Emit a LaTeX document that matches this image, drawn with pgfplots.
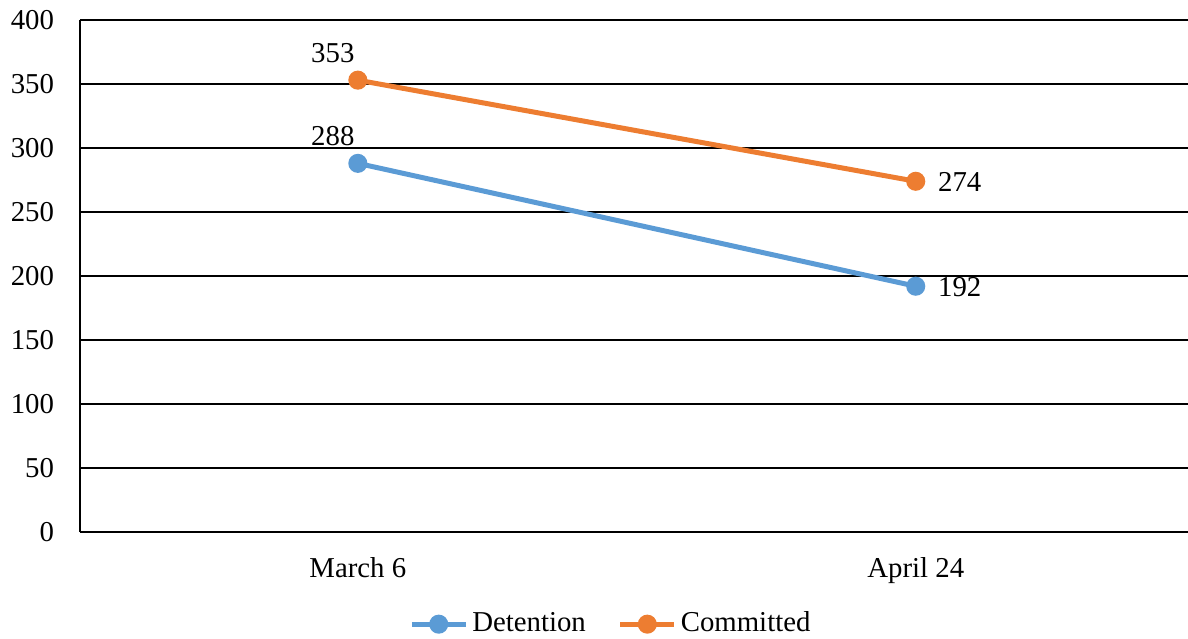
\documentclass[border=0pt]{standalone}
\usepackage{pgfplots}
\pgfplotsset{compat=1.18}
\usepackage{fontspec}
\setmainfont{Liberation Serif}
\definecolor{cblue}{HTML}{5B9BD5}
\definecolor{corange}{HTML}{ED7D31}
\begin{document}
\fontsize{14.4}{17}\selectfont
\begin{tikzpicture}
\begin{axis}[
  at={(0,0)}, anchor=south west,
  width=554pt, height=256pt, scale only axis,
  xmin=-0.498, xmax=1.488, ymin=0, ymax=400,
  ytick={0,50,100,150,200,250,300,350,400},
  yticklabels={0,50,100,150,200,250,300,350,400},
  xtick={0,1}, xticklabels={March 6,April 24},
  axis lines*=left,
  axis line style={black, line width=1pt},
  major tick length=0pt,
  ymajorgrids, grid style={black, line width=1pt},
  yticklabel style={xshift=-8pt},
  xticklabel style={yshift=-8pt},
  tick label style={font=\fontsize{14.4}{17}\selectfont},
  clip=false,
  legend columns=2,
  legend style={at={(0.48,-0.18)}, anchor=center, draw=none, fill=none,
    font=\fontsize{14.4}{17}\selectfont,
    /tikz/every even column/.append style={column sep=14pt},
    inner sep=0pt},
  legend image code/.code={
    \draw[#1, mark=none] (0cm,0cm) -- (27pt,0cm);
    \draw[#1, only marks] plot coordinates {(13.5pt,0cm)};
  },
  point meta=explicit symbolic,
  nodes near coords={\pgfplotspointmeta},
  every node near coord/.append style={font=\fontsize{14.4}{17}\selectfont, text=black, anchor=center},
  coordinate style/.condition={x==0}{xshift=-12.5pt, yshift=13.5pt},
  coordinate style/.condition={x==1}{xshift=22pt, yshift=-0.5pt},
]
\addplot[cblue, line width=2.5pt, mark=*, mark size=3.5pt] coordinates {(0,288) [288] (1,192) [192]};
\addlegendentry{Detention}
\addplot[corange, line width=2.5pt, mark=*, mark size=3.5pt] coordinates {(0,353) [353] (1,274) [274]};
\addlegendentry{Committed}
\coordinate (sw) at (rel axis cs:0,0);
\coordinate (ne) at (rel axis cs:1,1);
\end{axis}
\pgfresetboundingbox
\useasboundingbox ([shift={(-40pt,-53pt)}]sw) rectangle ([shift={(0pt,10pt)}]ne);
\end{tikzpicture}
\end{document}
